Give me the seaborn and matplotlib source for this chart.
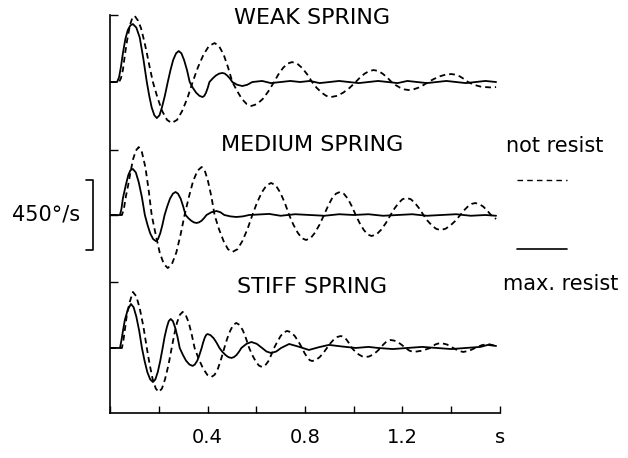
"""
Velocity traces after release, three spring stiffnesses, with / without resistance
"""

import matplotlib
matplotlib.use("Agg")
import matplotlib.pyplot as plt
from matplotlib.lines import Line2D
import matplotlib.transforms as mtransforms
import pandas as pd
import seaborn as sns

SPRINGS = ["WEAK SPRING", "MEDIUM SPRING", "STIFF SPRING"]
CONDITIONS = ["not resist", "max. resist"]
X_TICKS = [0.0, 0.2, 0.4, 0.6, 0.8, 1.0, 1.2, 1.4, 1.6]
X_TICK_LABELS = ["", "", "0.4", "", "0.8", "", "1.2", "", "s"]
SCALE_BAR = 450  # deg/s

# ------------------------------------------------------------------
# Traces: time (s), angular velocity (deg/s)
# ------------------------------------------------------------------
weak_free_t = [0, .037, .045, .053, .061, .070, .082, .092, .102, .115, .127, .140, .151, .163, .176,
               .195, .214, .234, .253, .275, .296, .318, .339,
               .361, .384, .406, .429, .447, .466, .484, .502,
               .522, .541, .561, .580, .603, .627, .650, .673,
               .691, .710, .728, .747, .768, .788, .809, .829,
               .848, .868, .887, .906, .932, .957, .983, 1.008,
               1.026, 1.045, 1.064, 1.082, 1.100, 1.118, 1.137, 1.155,
               1.172, 1.190, 1.207, 1.224, 1.245, 1.265, 1.286, 1.306,
               1.329, 1.353, 1.376, 1.400, 1.417, 1.435, 1.452, 1.469,
               1.486, 1.504, 1.521, 1.539, 1.560, 1.584]
weak_free_v = [0, 0, 25, 80, 176, 270, 372, 420, 430, 400, 352, 270, 190, 95, 0,
               -103, -189, -247, -267, -247, -189, -103, 0,
               97, 180, 235, 254, 235, 180, 97, 0,
               -60, -110, -144, -156, -144, -110, -60, 0,
               50, 92, 120, 130, 120, 92, 50, 0,
               -38, -69, -90, -98, -90, -69, -38, 0,
               30, 55, 72, 78, 72, 55, 30, 0,
               -20, -37, -48, -52, -48, -37, -20, 0,
               20, 37, 48, 52, 48, 37, 20, 0,
               -13, -23, -30, -33, -35, -33]

weak_res_t = [0, .029, .037, .045, .053, .063, .073, .084, .094, .108, .122, .137, .151,
              .161, .171, .182, .192, .203, .213, .225, .237,
              .248, .259, .271, .282, .293, .304, .316, .327,
              .340, .353, .367, .380, .387, .394, .401, .408,
              .421, .434, .448, .461, .471, .481, .492, .502,
              .522, .543, .563, .584, .624, .66, .70,
              .74, .78, .82, .86, .90, .94, .98, 1.02, 1.06, 1.10, 1.14, 1.18, 1.22,
              1.26, 1.30, 1.34, 1.38, 1.42, 1.46, 1.50, 1.54, 1.584]
weak_res_v = [0, 0, 30, 100, 189, 280, 339, 370, 378, 355, 290, 150, 0,
              -90, -166, -217, -235, -217, -166, -90, 0,
              77, 143, 187, 202, 187, 143, 77, 0,
              -38, -69, -90, -98, -90, -69, -38, 0,
              23, 42, 55, 59, 55, 42, 23, 0,
              -18, -26, -18, 0, 7, -7, 0,
              7, 0, 7, -7, 0, 7, 0, -7, 0, 7, 0, -7, 7,
              0, -7, 0, 7, 0, -7, 0, 7, 0]

medium_free_t = [0, .049, .057, .065, .074, .082, .094, .106, .118, .131, .145, .158, .171,
                 .188, .204, .221, .237, .254, .272, .289, .306,
                 .324, .341, .359, .376, .389, .402, .416, .429,
                 .447, .466, .484, .502, .523, .543, .564, .584,
                 .603, .623, .642, .661, .680, .698, .717, .735,
                 .752, .770, .787, .804, .823, .841, .860, .878,
                 .894, .910, .927, .943, .959, .976, .992, 1.008,
                 1.024, 1.041, 1.057, 1.073, 1.093, 1.112, 1.132, 1.151,
                 1.167, 1.184, 1.200, 1.216, 1.234, 1.251, 1.269, 1.286,
                 1.303, 1.321, 1.338, 1.355, 1.376, 1.396, 1.417, 1.437,
                 1.452, 1.468, 1.483, 1.498, 1.514, 1.531, 1.547, 1.563, 1.584]
medium_free_v = [0, 0, 40, 120, 190, 261, 360, 420, 443, 409, 313, 170, 0,
                 -132, -245, -320, -346, -320, -245, -132, 0,
                 120, 221, 289, 313, 289, 221, 120, 0,
                 -92, -170, -223, -241, -223, -170, -92, 0,
                 80, 148, 193, 209, 193, 148, 80, 0,
                 -62, -115, -151, -163, -151, -115, -62, 0,
                 57, 106, 139, 150, 139, 106, 57, 0,
                 -52, -97, -127, -137, -127, -97, -52, 0,
                 42, 78, 103, 111, 103, 78, 42, 0,
                 -38, -69, -90, -98, -90, -69, -38, 0,
                 30, 55, 72, 78, 72, 55, 30, 0, -26]

medium_res_t = [0, .041, .047, .053, .065, .075, .084, .094, .106, .118, .131, .143,
                .154, .165, .177, .188, .197, .206, .215, .224,
                .235, .246, .258, .269, .279, .290, .300, .310,
                .321, .333, .344, .355, .365, .376, .386, .396,
                .416, .437, .453, .469, .494, .518, .545, .571,
                .653, .70, .76, .82, .88, .94, 1.00, 1.06, 1.12, 1.18,
                1.24, 1.30, 1.36, 1.42, 1.48, 1.54, 1.584]
medium_res_v = [0, 0, 40, 110, 196, 260, 292, 300, 277, 213, 115, 0,
                -65, -120, -157, -170, -157, -120, -65, 0,
                57, 106, 139, 150, 139, 106, 57, 0,
                -20, -37, -48, -52, -48, -37, -20, 0,
                18, 26, 18, 0, -9, -13, -9, 0,
                7, -5, 5, 0, -5, 5, 0, 5, -5, 0,
                5, -5, 0, 5, -5, 0, -5]

stiff_free_t = [0, .049, .055, .062, .069, .081, .094, .108, .122, .137, .151,
                .163, .175, .188, .200, .213, .226, .240, .253,
                .264, .275, .287, .298, .310, .323, .335, .347,
                .364, .382, .399, .416, .429, .443, .456, .469,
                .481, .494, .506, .518, .531, .545, .558, .571,
                .584, .598, .611, .624, .636, .649, .661, .673,
                .687, .700, .714, .727, .742, .758, .773, .788,
                .798, .809, .819, .829, .844, .860, .875, .890,
                .904, .918, .933, .947, .958, .970, .981, .992,
                1.006, 1.020, 1.035, 1.049, 1.064, 1.080, 1.095, 1.110,
                1.120, 1.131, 1.141, 1.151, 1.166, 1.182, 1.197, 1.212,
                1.229, 1.245, 1.280, 1.314, 1.335, 1.355, 1.382, 1.408,
                1.429, 1.449, 1.474, 1.498, 1.525, 1.551, 1.584]
stiff_free_v = [0, 0, 50, 130, 215, 300, 365, 337, 258, 140, 0,
                -110, -203, -265, -287, -265, -203, -110, 0,
                90, 166, 217, 235, 217, 166, 90, 0,
                -72, -134, -175, -189, -175, -134, -72, 0,
                62, 115, 151, 163, 151, 115, 62, 0,
                -47, -88, -115, -124, -115, -88, -47, 0,
                42, 78, 103, 111, 103, 78, 42, 0,
                -33, -60, -79, -85, -79, -60, -33, 0,
                30, 55, 72, 78, 72, 55, 30, 0,
                -23, -42, -55, -59, -55, -42, -23, 0,
                20, 37, 48, 52, 48, 37, 20, 0,
                -18, -26, -18, 0, 23, 33, 23, 0,
                -18, -26, -18, 0, 18, 26, 13]

stiff_res_t = [0, .041, .047, .054, .061, .073, .086, .097, .108, .120, .131,
               .142, .153, .165, .176, .186, .196, .206, .216,
               .224, .233, .241, .249, .258, .267, .277, .286,
               .299, .312, .326, .339, .348, .358, .367, .376,
               .382, .388, .394, .400, .412, .425, .437, .449,
               .461, .474, .486, .498, .508, .519, .529, .539,
               .560, .580, .602, .624, .642, .661, .682, .702,
               .735, .775, .816, .857, .898, .950, 1.008,
               1.06, 1.10, 1.16, 1.22, 1.28, 1.34, 1.40, 1.46, 1.52, 1.55, 1.584]
stiff_res_v = [0, 0, 50, 120, 183, 250, 287, 265, 204, 110, 0,
               -85, -157, -205, -222, -205, -157, -85, 0,
               72, 134, 175, 189, 175, 134, 72, 0,
               -45, -83, -108, -117, -108, -83, -45, 0,
               35, 64, 84, 91, 84, 64, 35, 0,
               -25, -46, -60, -65, -60, -46, -25, 0,
               27, 39, 27, 0, -23, -33, -23, 0,
               26, 8, -13, 5, 20, 10, 0,
               7, 0, -7, 0, 7, 0, -7, 0, 7, 20, 13]

TRACES = {
    ("WEAK SPRING", "not resist"): (weak_free_t, weak_free_v),
    ("WEAK SPRING", "max. resist"): (weak_res_t, weak_res_v),
    ("MEDIUM SPRING", "not resist"): (medium_free_t, medium_free_v),
    ("MEDIUM SPRING", "max. resist"): (medium_res_t, medium_res_v),
    ("STIFF SPRING", "not resist"): (stiff_free_t, stiff_free_v),
    ("STIFF SPRING", "max. resist"): (stiff_res_t, stiff_res_v),
}

# vertical stacking of the three panels (deg/s units)
OFFSETS = {"WEAK SPRING": 1734, "MEDIUM SPRING": 867, "STIFF SPRING": 0}
Y_LIM = (-424, 2171)


def build_frame():
    rows = []
    for (spring, cond), (t, v) in TRACES.items():
        for ti, vi in zip(t, v):
            rows.append({"t": ti, "v": vi + OFFSETS[spring],
                         "spring": spring, "condition": cond})
    return pd.DataFrame(rows)


def fig_xy(px, py, w=628, h=458):
    return px / w, 1 - py / h


def main():
    sns.set_theme(style="ticks")
    plt.rcParams["font.family"] = ["DejaVu Sans"]
    plt.rcParams["text.color"] = "black"
    plt.rcParams["xtick.color"] = "black"
    plt.rcParams["ytick.color"] = "black"

    df = build_frame()

    fig = plt.figure(figsize=(6.28, 4.58), dpi=100)
    ax = fig.add_axes([110 / 628, 45 / 458, 390 / 628, 398 / 458])

    sns.lineplot(data=df, x="t", y="v", style="condition", units="spring",
                 estimator=None, sort=False, color="black", linewidth=1.3,
                 dashes={"not resist": (3.2, 2.2), "max. resist": ""},
                 legend=False, ax=ax)

    ax.set_xlim(0, 1.6)
    ax.set_ylim(*Y_LIM)
    ax.set_xlabel("")
    ax.set_ylabel("")
    sns.despine(ax=ax)
    for side in ("left", "bottom"):
        ax.spines[side].set_linewidth(1.2)
        ax.spines[side].set_color("black")

    ax.set_xticks(X_TICKS)
    ax.set_xticklabels(X_TICK_LABELS, fontsize=14, color="black")
    ax.tick_params(axis="x", direction="in", length=5, width=1, pad=11)
    ax.set_yticks([OFFSETS["MEDIUM SPRING"] - 437, OFFSETS["MEDIUM SPRING"],
                   OFFSETS["MEDIUM SPRING"] + 424, Y_LIM[1]])
    ax.set_yticklabels([])
    ax.tick_params(axis="y", direction="in", length=6, width=1)

    # panel titles
    for spring, py in zip(SPRINGS, [18, 145, 287]):
        x, y = fig_xy(312, py)
        fig.text(x, y, spring, ha="center", va="center", fontsize=16, color="black")

    # scale bar 450 deg/s centred on the medium baseline
    trans = mtransforms.blended_transform_factory(ax.transAxes, ax.transData)
    base = OFFSETS["MEDIUM SPRING"]
    xb, xe = -17 / 390, -24 / 390
    ax.plot([xe, xb, xb, xe], [base + SCALE_BAR / 2, base + SCALE_BAR / 2,
                               base - SCALE_BAR / 2, base - SCALE_BAR / 2],
            color="black", lw=1.2, transform=trans, clip_on=False)
    x, y = fig_xy(46, 214)
    fig.text(x, y, f"{SCALE_BAR}°/s", ha="center", va="center", fontsize=15, color="black")

    # key on the right
    x, y = fig_xy(555, 146)
    fig.text(x, y, CONDITIONS[0], ha="center", va="center", fontsize=15, color="black")
    x, y = fig_xy(561, 284)
    fig.text(x, y, CONDITIONS[1], ha="center", va="center", fontsize=15, color="black")
    x0, y0 = fig_xy(517, 180)
    x1, _ = fig_xy(567, 180)
    fig.add_artist(Line2D([x0, x1], [y0, y0], color="black", lw=1,
                          dashes=(4, 3), transform=fig.transFigure))
    x0, y0 = fig_xy(517, 249)
    fig.add_artist(Line2D([x0, x1], [y0, y0], color="black", lw=1.2,
                          transform=fig.transFigure))

    fig.savefig("out.png", dpi=100, facecolor="white")
    plt.close(fig)


if __name__ == "__main__":
    main()
